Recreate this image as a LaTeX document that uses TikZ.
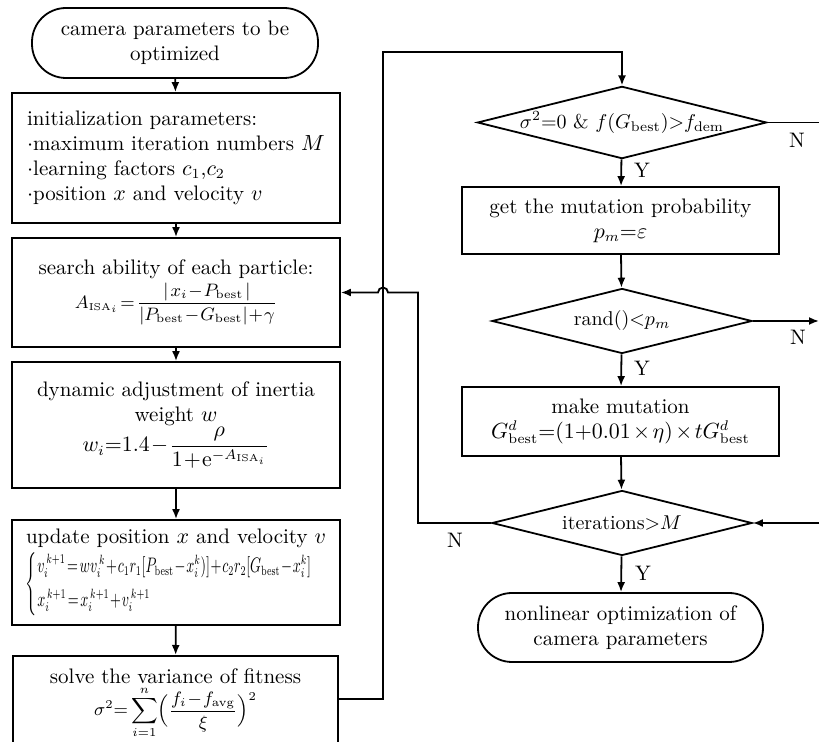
\documentclass[tikz,border=0pt]{standalone}
\usepackage{amsmath}
\usepackage{graphicx}
\usetikzlibrary{shapes.geometric,arrows.meta,calc}
\begin{document}
\begin{tikzpicture}[x=0.5pt,y=-0.5pt,
  box/.style={draw, line width=0.9pt, minimum width=164pt, inner sep=2pt, align=center, font=\fontsize{10.5}{12.5}\selectfont},
  rbox/.style={box, minimum width=158.5pt},
  term/.style={box, rounded corners=17pt},
  dec/.style={draw, diamond, aspect=4, line width=0.9pt, inner sep=0pt, minimum width=130pt, minimum height=32.5pt, font=\fontsize{10}{12}\selectfont},
  ln/.style={line width=0.9pt},
  arr/.style={line width=0.9pt, -{Latex[length=5pt,width=4pt]}},
  lab/.style={font=\fontsize{10.5}{12.5}\selectfont, inner sep=0pt}]
\useasboundingbox (0,0) rectangle (820,742);
\clip (0,0) rectangle (820,742);
% left column
\node[term, minimum width=143pt, minimum height=35pt] (start) at (175,43) {camera parameters to be\\optimized};
\node[box, minimum height=65pt, align=left] (init) at (176,158) {initialization parameters:\\
$\cdot$maximum iteration numbers $M$\\
$\cdot$learning factors $c_1$,$c_2$\\
$\cdot$position $x$ and velocity $v$};
\node[box, minimum height=54.5pt] (search) at (176,292.5) {search ability of each particle:\\[1pt]
{\small\medmuskip=1mu\thickmuskip=2mu $A_{\mathrm{\scriptscriptstyle ISA}_i}=\dfrac{|\;x_i-P_{\mathrm{best}}\;|}{|P_{\mathrm{best}}-G_{\mathrm{best}}|+\gamma}$}};
\node[box, minimum height=63pt] (dyn) at (176,425) {dynamic adjustment of inertia\\weight $w$\\
{\medmuskip=1mu $w_i{=}1.4-\dfrac{\rho}{1+\mathrm{e}^{-A_{\mathrm{\scriptscriptstyle ISA}_i}}}$}};
\node[box, minimum height=52.5pt] (update) at (176,572.5) {update position $x$ and velocity $v$\\[1pt]
\scalebox{1}[1.5]{\resizebox{150pt}{!}{\medmuskip=1mu\thickmuskip=2mu $\begin{cases} v_i^{\,k+1}=wv_i^{\,k}+c_1r_1[P_{\mathrm{best}}-x_i^k)]+c_2r_2[G_{\mathrm{best}}-x_i^k]\\[3pt] x_i^{\,k+1}=x_i^{\,k+1}+v_i^{\,k+1}\end{cases}$}}};
\node[box, anchor=north, minimum width=162.5pt, minimum height=48pt] (solve) at (175.5,655) {solve the variance of fitness\\
{\small\medmuskip=1mu $\sigma^2{=}\displaystyle\sum_{i=1}^{n}\Bigl(\frac{f_i-f_{\mathrm{avg}}}{\xi}\Bigr)^2$}};
% right column
\node[dec] (d1) at (622,122.5) {$\sigma^2{=}0\ \&\ f(G_{\mathrm{best}}){>}f_{\mathrm{dem}}$};
\node[rbox, minimum height=33.5pt] (prob) at (620.5,220.5) {get the mutation probability\\$p_m{=}\varepsilon$};
\node[dec] (d2) at (622,321) {rand()$\mathord{<}p_m$};
\node[rbox, minimum height=34.5pt] (mut) at (620.5,421.5) {make mutation\\
{\medmuskip=2mu $G^d_{\mathrm{best}}{=}(1{+}0.01\times\eta)\times tG^d_{\mathrm{best}}$}};
\node[dec] (d3) at (622,523) {iterations$\mathord{>}M$};
\node[term, minimum width=142.5pt, minimum height=34.5pt] (end) at (620.5,627.5) {nonlinear optimization of\\camera parameters};
% labels
\node[lab] (n1) at (797,140) {N};
\node[lab] (y1) at (642,170) {Y};
\node[lab] (n2) at (798,337) {N};
\node[lab] (y2) at (642,368) {Y};
\node[lab] (n3) at (455,540) {N};
\node[lab] (y3) at (643,573) {Y};
% coordinates
\coordinate (rx) at (819,0);
\coordinate (lp) at (383,699);
\coordinate (tp) at (622,52);
\coordinate (nb) at (418,523);
\coordinate (hx) at (388,0);
% left arrows
\draw[arr] (start) -- (init);
\draw[arr] (init) -- (search);
\draw[arr] (search) -- (dyn);
\draw[arr] (dyn) -- (update);
\draw[arr] (update) -- (solve);
% loop to right
\draw[arr] (solve.east |- lp) -- (lp) |- (tp) -- (d1.north);
% right arrows
\draw[arr] (d1) -- (prob);
\draw[arr] (prob) -- (d2);
\draw[arr] (d2) -- (mut);
\draw[arr] (mut) -- (d3);
\draw[arr] (d3) -- (end);
\draw[ln] (d1.east) -- (d1.east -| rx);
\draw[arr] (d2.east) -- (d2.east -| rx);
\draw[arr] (d3.east -| rx) -- (d3.east);
% back loop with hop
\draw[arr] (d3.west) -- (nb) |- (search.east -| hx) arc[start angle=0, end angle=180, radius=2.5pt] -- (search.east);
\end{tikzpicture}
\end{document}
